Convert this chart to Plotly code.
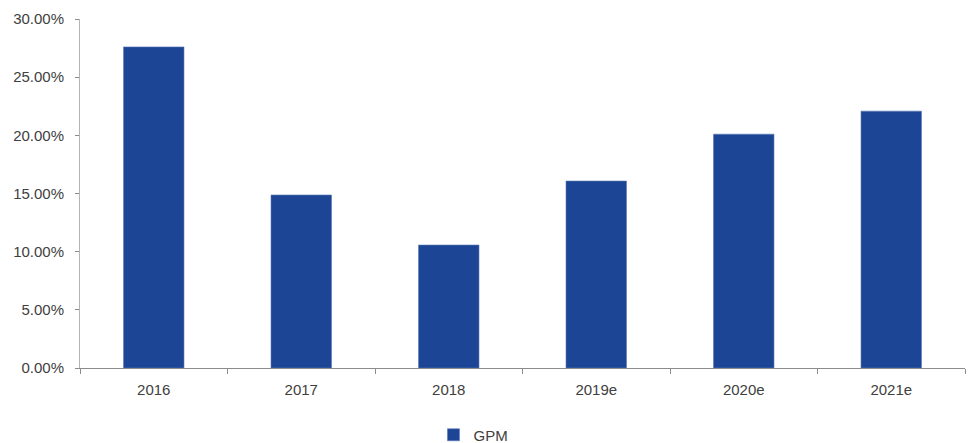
import plotly.graph_objects as go

# Gross profit margin by year (e = estimate)
years = ["2016", "2017", "2018", "2019e", "2020e", "2021e"]
gpm = [0.2760, 0.1487, 0.1057, 0.1607, 0.2010, 0.2208]
y_ticks = [0, 0.05, 0.10, 0.15, 0.20, 0.25, 0.30]

bar_color = "#1C4595"
font_color = "#404040"

fig = go.Figure()
fig.add_trace(go.Bar(
    x=years,
    y=gpm,
    name="GPM",
    marker=dict(color=bar_color, line=dict(color="#5B78B5", width=0.6)),
    showlegend=True,
))

fig.update_layout(
    width=971,
    height=443,
    margin=dict(l=80, r=6, t=19, b=75, autoexpand=False),
    paper_bgcolor="white",
    plot_bgcolor="white",
    font=dict(family="Liberation Sans, Arial, sans-serif", size=15, color=font_color),
    bargap=0.59,
    showlegend=True,
    legend=dict(
        orientation="h",
        xref="paper",
        x=0.4446,
        xanchor="center",
        yref="container",
        y=0.018,
        yanchor="middle",
        font=dict(size=15, color=font_color),
        itemwidth=30,
    ),
    xaxis=dict(
        type="category",
        showline=True,
        linecolor="#8C8C8C",
        linewidth=1,
        ticks="outside",
        tickson="boundaries",
        ticklen=5,
        tickcolor="#8C8C8C",
        ticklabelstandoff=8,
        showgrid=False,
        zeroline=False,
    ),
    yaxis=dict(
        range=[0, 0.30],
        tickvals=y_ticks,
        tickformat=".2%",
        showline=True,
        linecolor="#B4B4B4",
        linewidth=1,
        ticks="outside",
        ticklen=4,
        tickcolor="#8C8C8C",
        ticklabelstandoff=8,
        showgrid=False,
        zeroline=False,
    ),
)

fig.write_html("out.html")
